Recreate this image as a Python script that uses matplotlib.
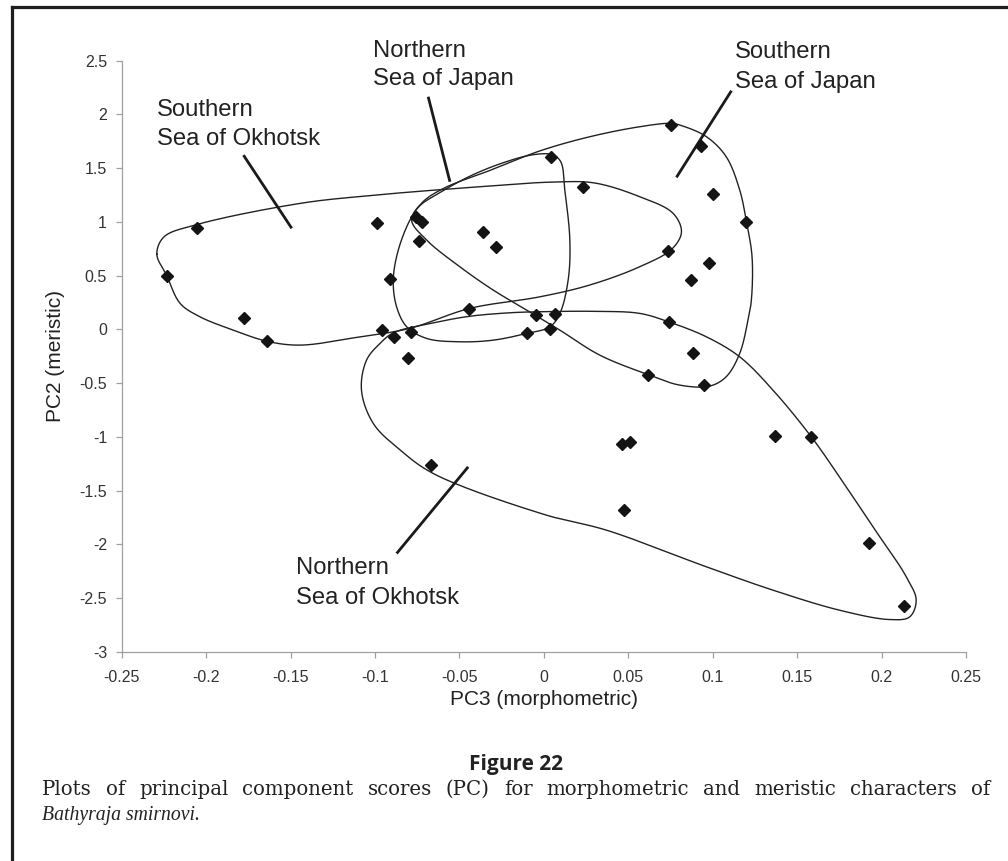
import numpy as np
import matplotlib
matplotlib.use("Agg")
import matplotlib.pyplot as plt
from matplotlib.lines import Line2D

W, H = 1008, 861

# scores (PC3 morphometric, PC2 meristic)
pc3 = [-0.2233, -0.2055, -0.1773, -0.1637, -0.0990, -0.0910, -0.0960, -0.0890,
       -0.0787, -0.0805, -0.0760, -0.0720, -0.0740, -0.0360, -0.0284, -0.0442,
       0.0043, -0.0049, 0.0065, -0.0101, 0.0036, 0.0233, 0.0755, 0.0931,
       0.1002, 0.1199, 0.0735, 0.0978, 0.0874, 0.0741, 0.0883, 0.0617,
       0.0949, 0.0465, 0.0513, 0.0475, 0.1369, 0.1584, 0.1923, 0.2132, -0.0669]
pc2 = [0.50, 0.945, 0.105, -0.106, 0.99, 0.465, -0.007, -0.07,
       -0.02, -0.27, 1.047, 0.998, 0.824, 0.91, 0.77, 0.186,
       1.603, 0.13, 0.14, -0.03, 0.006, 1.327, 1.898, 1.705,
       1.256, 1.001, 0.728, 0.62, 0.459, 0.071, -0.223, -0.42,
       -0.52, -1.067, -1.048, -1.678, -0.99, -0.999, -1.988, -2.574, -1.259]

# hand drawn group outlines (control points of closed curves)
s_okhotsk_x = [-0.2292, -0.2250, -0.2055, -0.1444, -0.1049, -0.0380, 0.0050, 0.0300,
               0.0568, 0.0765, 0.0815, 0.0760, 0.0568, 0.0270, -0.0024, -0.0440,
               -0.0793, -0.1089, -0.1444, -0.1640, -0.1840, -0.2036, -0.2154, -0.2233]
s_okhotsk_y = [0.70, 0.86, 0.975, 1.172, 1.242, 1.327, 1.370, 1.362,
               1.234, 1.080, 0.908, 0.750, 0.583, 0.412, 0.303, 0.195,
               0.010, -0.069, -0.146, -0.110, -0.006, 0.117, 0.242, 0.500]

n_japan_x = [-0.0892, -0.0862, -0.0793, -0.0735, -0.0635, -0.0438, -0.0241, -0.0063,
             0.0050, 0.0100, 0.0124, 0.0154, 0.0144, 0.0095, 0.0036, -0.0102,
             -0.0300, -0.0497, -0.0694, -0.0812, -0.0872]
n_japan_y = [0.459, 0.738, 1.017, 1.150, 1.255, 1.425, 1.550, 1.625,
             1.625, 1.560, 1.296, 0.831, 0.459, 0.149, 0.024, -0.037,
             -0.100, -0.115, -0.084, 0.024, 0.210]

s_japan_x = [-0.0783, -0.0694, -0.0497, -0.0300, -0.0102, 0.0095, 0.0331, 0.0617,
             0.0805, 0.0982, 0.1080, 0.1160, 0.1209, 0.1229, 0.1233, 0.1200,
             0.1160, 0.1080, 0.0963, 0.0824, 0.0755, 0.0568, 0.0272, -0.0024,
             -0.0300, -0.0596, -0.0720]
s_japan_y = [1.017, 0.831, 0.582, 0.366, 0.180, -0.007, -0.239, -0.420,
             -0.518, -0.527, -0.440, -0.223, 0.087, 0.273, 0.676, 1.000,
             1.296, 1.606, 1.792, 1.891, 1.916, 1.885, 1.792, 1.660,
             1.490, 1.310, 1.180]

n_okhotsk_x = [-0.0890, -0.0655, -0.0450, -0.0200, 0.0000, 0.0300, 0.0568, 0.0740,
               0.0963, 0.1160, 0.1357, 0.1584, 0.1750, 0.1949, 0.2146, 0.2205,
               0.2166, 0.2047, 0.1750, 0.1357, 0.0963, 0.0371, 0.0000, -0.0655,
               -0.0852, -0.1010, -0.1080, -0.1050, -0.0970]
n_okhotsk_y = [-0.031, 0.060, 0.120, 0.155, 0.165, 0.168, 0.149, 0.070,
               -0.069, -0.255, -0.565, -0.999, -1.370, -1.836, -2.300, -2.518,
               -2.674, -2.698, -2.611, -2.425, -2.208, -1.867, -1.720, -1.340,
               -1.120, -0.875, -0.565, -0.285, -0.130]

# group labels, two lines each, placed by first-line and second-line baseline
label_lines = [["Southern", "Sea of Okhotsk"], ["Northern", "Sea of Japan"],
               ["Southern", "Sea of Japan"], ["Northern", "Sea of Okhotsk"]]
label_x = [-0.2292, -0.1010, 0.1130, -0.1467]
label_y1 = [1.984, 2.530, 2.521, -2.276]
label_y2 = [1.714, 2.273, 2.242, -2.549]
# leader lines
lead_x0 = [-0.1779, -0.0685, 0.1111, -0.0872]
lead_y0 = [1.621, 2.164, 2.220, -2.084]
lead_x1 = [-0.1493, -0.0556, 0.0785, -0.0448]
lead_y1 = [0.940, 1.373, 1.414, -1.278]

xticks = [-0.25, -0.2, -0.15, -0.1, -0.05, 0, 0.05, 0.1, 0.15, 0.2, 0.25]
xtick_labels = ["-0.25", "-0.2", "-0.15", "-0.1", "-0.05", "0", "0.05", "0.1", "0.15", "0.2", "0.25"]
yticks = [-3, -2.5, -2, -1.5, -1, -0.5, 0, 0.5, 1, 1.5, 2, 2.5]
ytick_labels = ["-3", "-2.5", "-2", "-1.5", "-1", "-0.5", "0", "0.5", "1", "1.5", "2", "2.5"]

sans = ["Liberation Sans", "DejaVu Sans"]
serif = ["DejaVu Serif", "Liberation Serif"]


def closed_curve(ax, xs, ys, n=30):
    # centripetal catmull-rom through the control points, in pixel space
    p = ax.transData.transform(np.column_stack([xs, ys]))
    m = len(p)
    out = []
    for i in range(m):
        p0, p1, p2, p3 = p[(i - 1) % m], p[i], p[(i + 1) % m], p[(i + 2) % m]
        t0 = 0.0
        t1 = t0 + np.linalg.norm(p1 - p0) ** 0.5
        t2 = t1 + np.linalg.norm(p2 - p1) ** 0.5
        t3 = t2 + np.linalg.norm(p3 - p2) ** 0.5
        t = np.linspace(t1, t2, n, endpoint=False)[:, None]
        a1 = (t1 - t) / (t1 - t0) * p0 + (t - t0) / (t1 - t0) * p1
        a2 = (t2 - t) / (t2 - t1) * p1 + (t - t1) / (t2 - t1) * p2
        a3 = (t3 - t) / (t3 - t2) * p2 + (t - t2) / (t3 - t2) * p3
        b1 = (t2 - t) / (t2 - t0) * a1 + (t - t0) / (t2 - t0) * a2
        b2 = (t3 - t) / (t3 - t1) * a2 + (t - t1) / (t3 - t1) * a3
        out.append((t2 - t) / (t2 - t1) * b1 + (t - t1) / (t2 - t1) * b2)
    out.append(p[:1])
    out = ax.transData.inverted().transform(np.vstack(out))
    return out[:, 0], out[:, 1]


fig = plt.figure(figsize=(W / 100, H / 100), dpi=100)
ax = fig.add_axes([121.7 / W, 1 - 652 / H, (966 - 121.7) / W, (652 - 60.6) / H])
ax.set_xlim(-0.25, 0.25)
ax.set_ylim(-3, 2.5)

for side in ["top", "right"]:
    ax.spines[side].set_visible(False)
for side in ["left", "bottom"]:
    ax.spines[side].set_color("#a0a0a0")
    ax.spines[side].set_linewidth(0.9)

ax.set_xticks(xticks)
ax.set_xticklabels(xtick_labels)
ax.set_yticks(yticks)
ax.set_yticklabels(ytick_labels)
ax.tick_params(axis="both", direction="out", length=4, width=0.9, color="#a0a0a0",
               labelsize=11.5, labelcolor="#333333")
ax.tick_params(axis="x", pad=9)
ax.tick_params(axis="y", pad=6.5)
for lab in ax.get_xticklabels() + ax.get_yticklabels():
    lab.set_family(sans)

ax.set_xlabel("PC3 (morphometric)", fontsize=15, family=sans, color="#222222")
ax.set_ylabel("PC2 (meristic)", fontsize=15, family=sans, color="#222222")
ax.xaxis.set_label_coords(0.5, -0.064)
ax.yaxis.set_label_coords(-0.067, 0.5)

for xs, ys in [(s_okhotsk_x, s_okhotsk_y), (n_japan_x, n_japan_y),
               (s_japan_x, s_japan_y), (n_okhotsk_x, n_okhotsk_y)]:
    cx, cy = closed_curve(ax, xs, ys)
    ax.plot(cx, cy, color="#222222", lw=1.0, zorder=2, clip_on=False)

ax.plot(pc3, pc2, linestyle="none", marker="D", markersize=6.6,
        color="#141414", zorder=4, clip_on=False)

for i in range(len(label_lines)):
    ax.plot([lead_x0[i], lead_x1[i]], [lead_y0[i], lead_y1[i]], color="#1a1a1a",
            lw=2.0, solid_capstyle="butt", zorder=3, clip_on=False)
    ax.text(label_x[i], label_y1[i], label_lines[i][0], fontsize=17.2, family=sans,
            color="#222222", va="baseline", ha="left", clip_on=False)
    ax.text(label_x[i], label_y2[i], label_lines[i][1], fontsize=17.2, family=sans,
            color="#222222", va="baseline", ha="left", clip_on=False)

# caption below the chart
fig.text(516 / W, 1 - 770 / H, "Figure 22", fontsize=15, fontweight="bold",
         family=["Open Sans", "DejaVu Sans"], color="#222222", ha="center", va="baseline")

caption1 = "Plots of principal component scores (PC) for morphometric and meristic characters of"
caption2 = "Bathyraja smirnovi."
renderer = fig.canvas.get_renderer()
words = caption1.split()
word_texts = [fig.text(0, 1 - 795 / H, w, fontsize=14.2, family=serif, color="#222222",
                       va="baseline", ha="left") for w in words]
widths = [t.get_window_extent(renderer).width for t in word_texts]
x0, x1 = 42.0, 990.0
gap = (x1 - x0 - sum(widths)) / (len(words) - 1)
xpos = x0
for t, w in zip(word_texts, widths):
    t.set_x(xpos / W)
    xpos += w + gap
fig.text(42 / W, 1 - 820 / H, caption2, fontsize=14.2,
         family=["Liberation Serif", "DejaVu Serif"], style="italic",
         color="#222222", va="baseline", ha="left")

# page frame (top and left edges)
fig.add_artist(Line2D([12 / W, 1.0], [1 - 6.5 / H, 1 - 6.5 / H], transform=fig.transFigure,
                      color="#1e1e1e", lw=2.3))
fig.add_artist(Line2D([12 / W, 12 / W], [0.0, 1 - 6.5 / H], transform=fig.transFigure,
                      color="#1e1e1e", lw=2.3))

fig.savefig("out.png", dpi=100)
